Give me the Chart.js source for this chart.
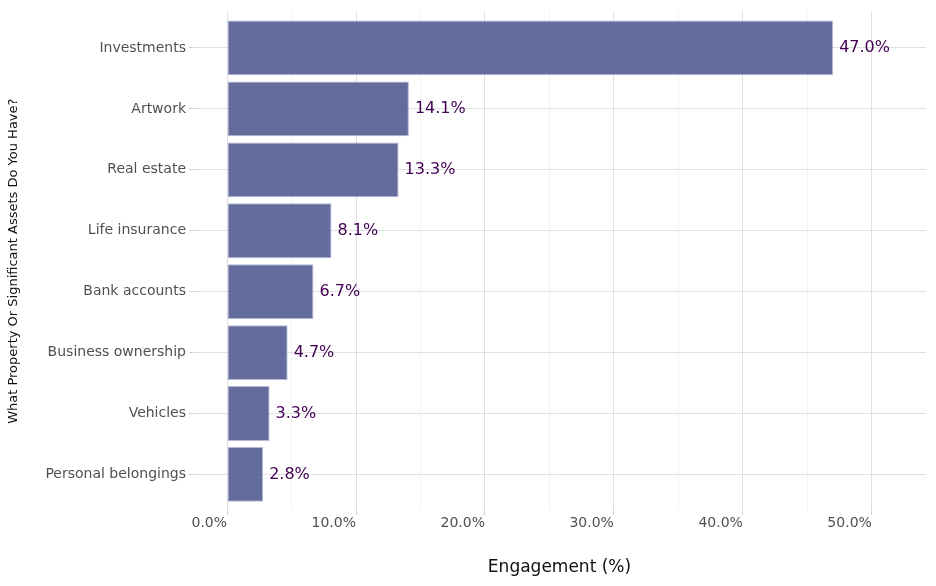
<!DOCTYPE html>
<html>
<head>
<meta charset="utf-8">
<script src="https://cdn.jsdelivr.net/npm/chart.js@4"></script>
<style>
  html, body { margin: 0; padding: 0; background: #fff; }
  #wrap { width: 936px; height: 586px; }
</style>
</head>
<body>
<div id="wrap"><canvas id="chart" width="936" height="586"></canvas></div>
<script>
const categories = ['Investments', 'Artwork', 'Real estate', 'Life insurance', 'Bank accounts', 'Business ownership', 'Vehicles', 'Personal belongings'];
const values = [47.0, 14.1, 13.3, 8.1, 6.7, 4.7, 3.3, 2.8];
const xTicks = [0, 5, 10, 15, 20, 25, 30, 35, 40, 45, 50];

const FONT = "'DejaVu Sans', sans-serif";

// value labels at the end of each bar
const barLabels = {
    id: 'barLabels',
    afterDatasetsDraw(chart) {
        const ctx = chart.ctx;
        const meta = chart.getDatasetMeta(0);
        ctx.save();
        ctx.font = '16px ' + FONT;
        ctx.fillStyle = '#440154';
        ctx.textAlign = 'left';
        ctx.textBaseline = 'middle';
        meta.data.forEach((bar, i) => {
            ctx.fillText(values[i].toFixed(1) + '%', bar.x + 6, bar.y);
        });
        ctx.restore();
    }
};

const ctx = document.getElementById('chart').getContext('2d');
new Chart(ctx, {
    type: 'bar',
    data: {
        datasets: [{
            data: values.map((v, i) => ({ x: v, y: i })),
            backgroundColor: 'rgba(83, 92, 148, 0.9)',
            borderColor: 'rgba(170, 176, 210, 0.9)',
            borderWidth: 1,
            borderSkipped: false,
            barPercentage: 0.9,
            categoryPercentage: 1.0
        }]
    },
    options: {
        indexAxis: 'y',
        responsive: false,
        animation: false,
        layout: { padding: { top: 9, right: 10, bottom: 0, left: 0 } },
        plugins: {
            legend: { display: false },
            tooltip: { enabled: false }
        },
        scales: {
            x: {
                type: 'linear',
                min: -2.64,
                max: 54.2,
                border: { display: false },
                afterBuildTicks: (scale) => { scale.ticks = xTicks.map(v => ({ value: v })); },
                afterFit: (scale) => { scale.height = 75; },
                grid: {
                    color: (c) => (c.tick && c.tick.value % 10 === 0) ? '#e0e0e0' : '#f3f3f3',
                    tickColor: (c) => (c.tick && c.tick.value % 10 === 0) ? '#d0d0d0' : 'rgba(0,0,0,0)',
                    tickLength: 4,
                    lineWidth: 1
                },
                ticks: {
                    align: 'end',
                    maxRotation: 0,
                    autoSkip: false,
                    padding: 0,
                    color: '#505050',
                    font: { family: FONT, size: 14 },
                    callback: (v) => (v % 10 === 0) ? v.toFixed(1) + '%' : ''
                },
                title: {
                    display: true,
                    text: 'Engagement (%)',
                    color: '#111111',
                    font: { family: FONT, size: 17 },
                    padding: { top: 10, bottom: 8 }
                }
            },
            y: {
                type: 'linear',
                reverse: true,
                offset: false,
                min: -0.6,
                max: 7.6,
                border: { display: false },
                afterBuildTicks: (scale) => { scale.ticks = categories.map((c, i) => ({ value: i })); },
                afterFit: (scale) => { scale.width = 193; },
                grid: {
                    offset: false,
                    color: '#e0e0e0',
                    tickColor: '#d0d0d0',
                    tickLength: 4,
                    lineWidth: 1
                },
                ticks: {
                    autoSkip: false,
                    padding: 3,
                    color: '#505050',
                    font: { family: FONT, size: 14 },
                    callback: (v) => categories[v] || ''
                },
                title: {
                    display: true,
                    text: 'What Property Or Significant Assets Do You Have?',
                    color: '#111111',
                    font: { family: FONT, size: 13 },
                    padding: { top: 6, bottom: 0 }
                }
            }
        }
    },
    plugins: [barLabels]
});
</script>
</body>
</html>
